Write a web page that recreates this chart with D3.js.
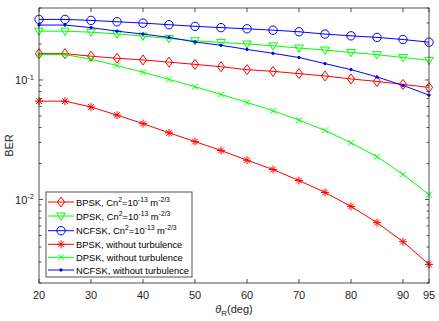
<!DOCTYPE html>
<meta charset="utf-8">
<style>
  body { margin: 0; background: #fff; }
  svg { display: block; }
  .tick-label { font: 11px "Liberation Sans", Arial, sans-serif; fill: #262626; }
  .legend-text { font: 9.4px "Liberation Sans", Arial, sans-serif; fill: #000; }
</style>
<body>
<svg width="439" height="321"></svg>
<script src="https://d3js.org/d3.v7.min.js"></script>
<script>

// angle theta_R in degrees
var theta = [20, 25, 30, 35, 40, 45, 50, 55, 60, 65, 70, 75, 80, 85, 90, 95];

// BER with turbulence (Cn^2 = 1e-13)
var bpskTurb  = [0.166, 0.166, 0.158, 0.152, 0.147, 0.141, 0.135, 0.129, 0.122, 0.118, 0.113, 0.108, 0.102, 0.0972, 0.0917, 0.0866];
var dpskTurb  = [0.256, 0.256, 0.251, 0.243, 0.233, 0.222, 0.213, 0.206, 0.200, 0.193, 0.185, 0.178, 0.170, 0.163, 0.154, 0.146];
var ncfskTurb = [0.321, 0.321, 0.315, 0.307, 0.299, 0.290, 0.281, 0.274, 0.268, 0.261, 0.253, 0.242, 0.234, 0.227, 0.218, 0.207];

// BER without turbulence
var bpskNo  = [0.0665, 0.0665, 0.0594, 0.0508, 0.0431, 0.0361, 0.0305, 0.0257, 0.0213, 0.0178, 0.0144, 0.01145, 0.00874, 0.0064, 0.00443, 0.00286];
var dpskNo  = [0.163, 0.163, 0.149, 0.132, 0.116, 0.101, 0.0877, 0.0756, 0.0648, 0.0552, 0.0461, 0.0378, 0.0298, 0.0228, 0.0162, 0.0110];
var ncfskNo = [0.288, 0.288, 0.274, 0.256, 0.242, 0.227, 0.208, 0.195, 0.180, 0.167, 0.154, 0.137, 0.122, 0.106, 0.090, 0.0746];

var xTicks = [20, 30, 40, 50, 60, 70, 80, 90, 95];
var yTicks = [0.01, 0.1];

var series = [
  {name: "BPSK", turb: true,  values: bpskTurb,  color: "#ff0000", marker: "diamond"},
  {name: "DPSK", turb: true,  values: dpskTurb,  color: "#00ff00", marker: "triangle"},
  {name: "NCFSK", turb: true, values: ncfskTurb, color: "#0000ff", marker: "circle"},
  {name: "BPSK", turb: false, values: bpskNo,    color: "#ff0000", marker: "star"},
  {name: "DPSK", turb: false, values: dpskNo,    color: "#00ff00", marker: "cross"},
  {name: "NCFSK", turb: false, values: ncfskNo,  color: "#0000ff", marker: "dot"}
];

var svg = d3.select("svg");
var pLeft = 39, pRight = 429, pTop = 8, pBottom = 283;

var x = d3.scaleLinear().domain([20, 95]).range([pLeft, pRight]);
var y = d3.scaleLog().domain([0.002, 0.4]).range([pBottom, pTop]);

var axisColor = "#262626";

// marker paths, centred on 0,0
var markerPath = {
  diamond: "M0,-5L3.6,0L0,5L-3.6,0Z",
  triangle: "M-4.3,-3L4.3,-3L0,4.3Z",
  circle: d3.symbol().type(d3.symbolCircle).size(Math.PI * 4.2 * 4.2)(),
  star: "M0,-4V4M-4,0H4M-2.9,-2.9L2.9,2.9M-2.9,2.9L2.9,-2.9",
  cross: "M-3,-3L3,3M-3,3L3,-3",
  dot: d3.symbol().type(d3.symbolCircle).size(Math.PI * 1.2 * 1.2)()
};

function drawMarker(g, s, cx, cy) {
  g.append("path")
    .attr("d", markerPath[s.marker])
    .attr("transform", "translate(" + cx + "," + cy + ")")
    .attr("fill", s.marker == "dot" ? s.color : "none")
    .attr("stroke", s.color)
    .attr("stroke-width", 1);
}

// series lines and markers
var plot = svg.append("g");
var line = d3.line()
  .x(function(d, i) { return x(theta[i]); })
  .y(function(d) { return y(d); });

series.forEach(function(s) {
  var g = plot.append("g");
  g.append("path")
    .attr("d", line(s.values))
    .attr("fill", "none")
    .attr("stroke", s.color)
    .attr("stroke-width", 1);
  s.values.forEach(function(v, i) {
    drawMarker(g, s, x(theta[i]), y(v));
  });
});

// axes box
svg.append("rect")
  .attr("x", pLeft).attr("y", pTop)
  .attr("width", pRight - pLeft).attr("height", pBottom - pTop)
  .attr("fill", "none").attr("stroke", axisColor).attr("stroke-width", 0.8);

var ticks = svg.append("g").attr("stroke", axisColor).attr("stroke-width", 0.8);

xTicks.forEach(function(t) {
  ticks.append("line").attr("x1", x(t)).attr("x2", x(t)).attr("y1", pBottom).attr("y2", pBottom - 4);
  ticks.append("line").attr("x1", x(t)).attr("x2", x(t)).attr("y1", pTop).attr("y2", pTop + 4);
  svg.append("text")
    .attr("class", "tick-label")
    .attr("x", x(t)).attr("y", pBottom + 16)
    .attr("text-anchor", "middle")
    .text(t);
});

// minor ticks on log axis
var minor = [];
[0.001, 0.01, 0.1].forEach(function(dec) {
  for (var k = 2; k <= 9; k++) {
    var v = dec * k;
    if (v >= 0.002 && v <= 0.4 + 1e-9) minor.push(v);
  }
});
minor.forEach(function(v) {
  ticks.append("line").attr("x1", pLeft).attr("x2", pLeft + 2.5).attr("y1", y(v)).attr("y2", y(v));
  ticks.append("line").attr("x1", pRight).attr("x2", pRight - 2.5).attr("y1", y(v)).attr("y2", y(v));
});

yTicks.forEach(function(v) {
  ticks.append("line").attr("x1", pLeft).attr("x2", pLeft + 4).attr("y1", y(v)).attr("y2", y(v));
  ticks.append("line").attr("x1", pRight).attr("x2", pRight - 4).attr("y1", y(v)).attr("y2", y(v));
  var t = svg.append("text")
    .attr("class", "tick-label")
    .attr("x", pLeft - 5).attr("y", y(v) + 4.5)
    .attr("text-anchor", "end");
  t.append("tspan").text("10");
  t.append("tspan").attr("dy", -4.5).style("font-size", "7.5px").text(Math.round(Math.log10(v)));
});

// axis titles
svg.append("text")
  .attr("class", "tick-label")
  .attr("transform", "translate(13," + ((pTop + pBottom) / 2) + ") rotate(-90)")
  .attr("text-anchor", "middle")
  .style("font-size", "11px")
  .text("BER");

var xt = svg.append("text")
  .attr("class", "tick-label")
  .attr("x", (pLeft + pRight) / 2).attr("y", 313)
  .attr("text-anchor", "middle")
  .style("font-size", "11px");
xt.append("tspan").style("font-style", "italic").text("θ");
xt.append("tspan").attr("dy", 3).style("font-size", "8px").text("R");
xt.append("tspan").attr("dy", -3).text("(deg)");

// legend
var lg = svg.append("g");
var lx = 46, ly = 192, lw = 146, lh = 85;
lg.append("rect")
  .attr("x", lx).attr("y", ly).attr("width", lw).attr("height", lh)
  .attr("fill", "#fff").attr("stroke", axisColor).attr("stroke-width", 0.8);

var rowY = [202, 216, 230.7, 244.3, 257.3, 270];
series.forEach(function(s, i) {
  var ry = rowY[i];
  lg.append("line")
    .attr("x1", lx + 2).attr("x2", lx + 28).attr("y1", ry).attr("y2", ry)
    .attr("stroke", s.color).attr("stroke-width", 1);
  drawMarker(lg, s, lx + 15, ry);
  var t = lg.append("text")
    .attr("class", "legend-text")
    .attr("x", lx + 30).attr("y", ry + 3.5);
  if (s.turb) {
    t.append("tspan").text(s.name + ", Cn");
    t.append("tspan").attr("dy", -4).style("font-size", "6.8px").text("2");
    t.append("tspan").attr("dy", 4).text("=10");
    t.append("tspan").attr("dy", -4).style("font-size", "6.8px").text("-13");
    t.append("tspan").attr("dy", 4).text(" m");
    t.append("tspan").attr("dy", -4).style("font-size", "6.8px").text("-2/3");
  } else {
    t.text(s.name + ", without turbulence");
  }
});

</script>
</body>
